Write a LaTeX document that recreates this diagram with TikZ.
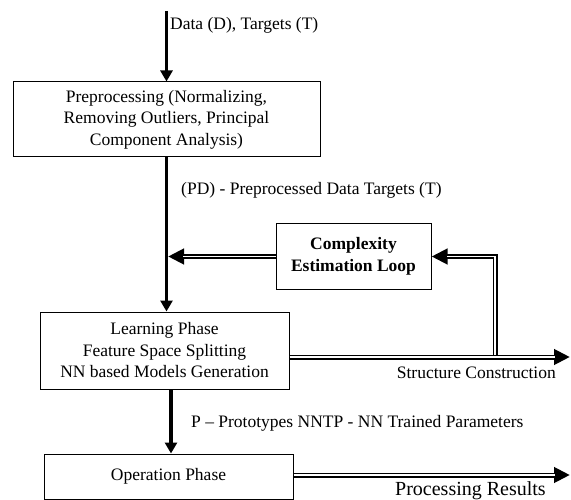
\documentclass[tikz,border=0pt]{standalone}
\usepackage{fontspec}
\setmainfont{Liberation Serif}
\usetikzlibrary{arrows.meta}
\begin{document}
\begin{tikzpicture}[x=1pt,y=-1pt,
  font=\fontsize{17.5}{21.5}\selectfont,
  box/.style={draw, line width=1pt, align=center, inner sep=0pt},
  arr/.style={line width=3.5pt, -{Triangle[length=11pt,width=12pt]}},
  dblout/.style={line width=5pt, line join=miter, -{Triangle[length=16pt,width=15pt]}},
  dblin/.style={white, line width=1.5pt, line join=miter, shorten >=15pt},
  lbl/.style={inner sep=0pt}]
\useasboundingbox (0,0) rectangle (571,500);

% boxes
\node[box, minimum width=307pt, minimum height=75pt] (pre) at (166.5,119.5)
  {Preprocessing (Normalizing,\\Removing Outliers, Principal\\Component Analysis)};
\node[box, minimum width=155pt, minimum height=65pt, font=\fontsize{17.5}{22}\selectfont\bfseries] (cel) at (353.5,256.5)
  {Complexity\\Estimation Loop};
\node[box, minimum width=249pt, minimum height=77pt] (learn) at (164.5,350.5)
  {Learning Phase\\Feature Space Splitting\\NN based Models Generation};
\node[box, minimum width=249pt, minimum height=45pt] (op) at (168.5,476.5)
  {Operation Phase};

% free ends
\coordinate (src) at (166.5,11);
\coordinate (sc) at (570,357);
\coordinate (pr) at (570,475);
\coordinate (lp) at (495,357);
\coordinate (j1) at (pre.south |- cel.west);

% single arrows
\draw[arr] (src) -- (pre.north);
\draw[arr] (pre.south) -- (pre.south |- learn.north);
\draw[arr] ([xshift=6.5pt]learn.south) -- ([xshift=6.5pt]learn.south |- op.north);

% loop (double)
\draw[dblout] (lp) -- (lp |- cel.east) -- (cel.east);
\draw[dblin] (lp) -- (lp |- cel.east) -- (cel.east);
\draw[dblout, shorten >=1.5pt] (cel.west) -- (j1);
\draw[dblin, shorten >=16.5pt] (cel.west) -- (j1);

% structure construction (double)
\draw[dblout] (learn.east |- sc) -- (sc);
\draw[dblin] (learn.east |- sc) -- (sc);
% processing results (double)
\draw[dblout] (op.east |- pr) -- (pr);
\draw[dblin] (op.east |- pr) -- (pr);

% labels
\node[lbl, anchor=west] (l1) at (170,25) {Data (D), Targets (T)};
\node[lbl, anchor=west] (l2) at (181,190) {(PD) - Preprocessed Data Targets (T)};
\node[lbl, anchor=west] (l3) at (191,423) {P -- Prototypes NNTP - NN Trained Parameters};
\node[lbl, anchor=east] (l4) at (556,373) {Structure Construction};
\node[lbl, anchor=west, font=\fontsize{20}{24}\selectfont] (l5) at (395,491) {Processing Results};
\end{tikzpicture}
\end{document}
